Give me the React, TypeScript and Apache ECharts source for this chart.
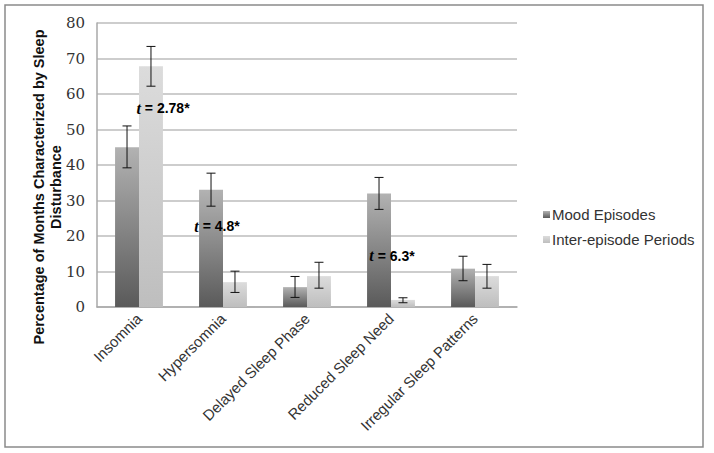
import React, { useEffect, useRef } from "react";
import * as echarts from "echarts";

const categories = ["Insomnia", "Hypersomnia", "Delayed Sleep Phase", "Reduced Sleep Need", "Irregular Sleep Patterns"];
const moodValues = [45, 33, 5.6, 32, 10.8];
const moodLow = [39.2, 28.4, 2.7, 27.5, 7.4];
const moodHigh = [51, 37.7, 8.6, 36.5, 14.3];
const interValues = [67.8, 7, 8.7, 2, 8.7];
const interLow = [62.2, 4.1, 5.3, 1.2, 5.3];
const interHigh = [73.4, 10.1, 12.6, 2.6, 12];
const yTicks = { min: 0, max: 80, interval: 10 };
const yAxisTitle = "Percentage of Months Characterized by Sleep\nDisturbance";
const annotations = [
  { cat: "Insomnia", value: 56, text: " = 2.78*", dx: 36 },
  { cat: "Hypersomnia", value: 22.8, text: " = 4.8*", dx: 6 },
  { cat: "Reduced Sleep Need", value: 14.4, text: " = 6.3*", dx: 13 },
];

const GAP = 0.43;

function errorSeries(low: number[], high: number[], side: number) {
  return {
    type: "custom",
    name: "err" + side,
    silent: true,
    z: 5,
    data: low.map((l, i) => [i, l, high[i]]),
    encode: { x: 0, y: [1, 2] },
    renderItem: (params: any, api: any) => {
      const xi = api.value(0);
      const lo = api.value(1);
      const hi = api.value(2);
      const band = api.size([1, 0])[0];
      const barW = (band * (1 - GAP)) / 2;
      const pLo = api.coord([xi, lo]);
      const pHi = api.coord([xi, hi]);
      const x = pLo[0] + (side * barW) / 2;
      const cap = 4.5;
      const style = { stroke: "#111", lineWidth: 1 };
      return {
        type: "group",
        children: [
          { type: "line", shape: { x1: x, y1: pLo[1], x2: x, y2: pHi[1] }, style },
          { type: "line", shape: { x1: x - cap, y1: pLo[1], x2: x + cap, y2: pLo[1] }, style },
          { type: "line", shape: { x1: x - cap, y1: pHi[1], x2: x + cap, y2: pHi[1] }, style },
        ],
      };
    },
  };
}

export default function App() {
  const ref = useRef<HTMLDivElement>(null);
  useEffect(() => {
    document.body.style.margin = "0";
    const chart = echarts.init(ref.current!, null, { renderer: "svg" });
    const moodGrad = new echarts.graphic.LinearGradient(0, 0, 0, 1, [
      { offset: 0, color: "#b2b2b2" },
      { offset: 1, color: "#5a5a5a" },
    ]);
    const interGrad = new echarts.graphic.LinearGradient(0, 0, 0, 1, [
      { offset: 0, color: "#dcdcdc" },
      { offset: 1, color: "#bebebe" },
    ]);
    chart.setOption({
      animation: false,
      backgroundColor: "#fff",
      graphic: [
        {
          type: "rect",
          shape: { x: 5, y: 5, width: 698, height: 442 },
          style: { fill: "none", stroke: "#8a8a8a", lineWidth: 1.5 },
          silent: true,
        },
        {
          type: "text",
          x: 47.5,
          y: 187,
          rotation: Math.PI / 2,
          silent: true,
          style: {
            text: yAxisTitle,
            align: "center",
            verticalAlign: "middle",
            fontFamily: "Liberation Sans",
            fontWeight: "bold",
            fontSize: 14.5,
            lineHeight: 17,
            fill: "#111",
          },
        },
      ],
      grid: { left: 97, top: 23, right: 197, bottom: 146, outerBoundsMode: "none" },
      legend: {
        orient: "vertical",
        left: 538,
        top: 202,
        itemWidth: 7,
        itemHeight: 7,
        itemGap: 10,
        icon: "rect",
        data: ["Mood Episodes", "Inter-episode Periods"],
        textStyle: { fontFamily: "Liberation Sans", fontSize: 15, color: "#333", padding: [0, 0, 0, -3] },
      },
      xAxis: {
        type: "category",
        data: categories,
        axisLine: { lineStyle: { color: "#a8a8a8", width: 1.5 } },
        axisTick: { show: false },
        axisLabel: {
          rotate: 45,
          interval: 0,
          fontFamily: "Liberation Sans",
          fontSize: 15,
          color: "#333",
          margin: 9,
        },
      },
      yAxis: {
        type: "value",
        min: yTicks.min,
        max: yTicks.max,
        interval: yTicks.interval,
        axisLine: { show: true, lineStyle: { color: "#a8a8a8", width: 1.5 } },
        axisTick: { show: false },
        splitLine: { lineStyle: { color: "#bdbdbd", width: 1.5 } },
        axisLabel: { fontFamily: "DejaVu Serif", fontSize: 15, color: "#333", margin: 12 },
      },
      series: [
        {
          type: "bar",
          name: "Mood Episodes",
          data: moodValues,
          barGap: "0%",
          barCategoryGap: (GAP * 100) + "%",
          itemStyle: { color: moodGrad },
          markPoint: {
            symbol: "circle",
            symbolSize: 0,
            data: annotations.map((a) => ({
              coord: [a.cat, a.value],
              label: {
                show: true,
                position: "inside",
                offset: [a.dx, 0],
                formatter: "{t|t}{r|" + a.text + "}",
                rich: {
                  t: { fontFamily: "Liberation Serif", fontStyle: "italic", fontWeight: "bold", fontSize: 16, color: "#000" },
                  r: { fontFamily: "Liberation Sans", fontWeight: "bold", fontSize: 14, color: "#000" },
                },
              },
            })),
          },
        },
        {
          type: "bar",
          name: "Inter-episode Periods",
          data: interValues,
          barGap: "0%",
          barCategoryGap: (GAP * 100) + "%",
          itemStyle: { color: interGrad },
        },
        errorSeries(moodLow, moodHigh, -1),
        errorSeries(interLow, interHigh, 1),
      ],
    });
    return () => chart.dispose();
  }, []);
  return <div ref={ref} style={{ position: "absolute", left: 0, top: 0, width: 714, height: 453 }} />;
}
